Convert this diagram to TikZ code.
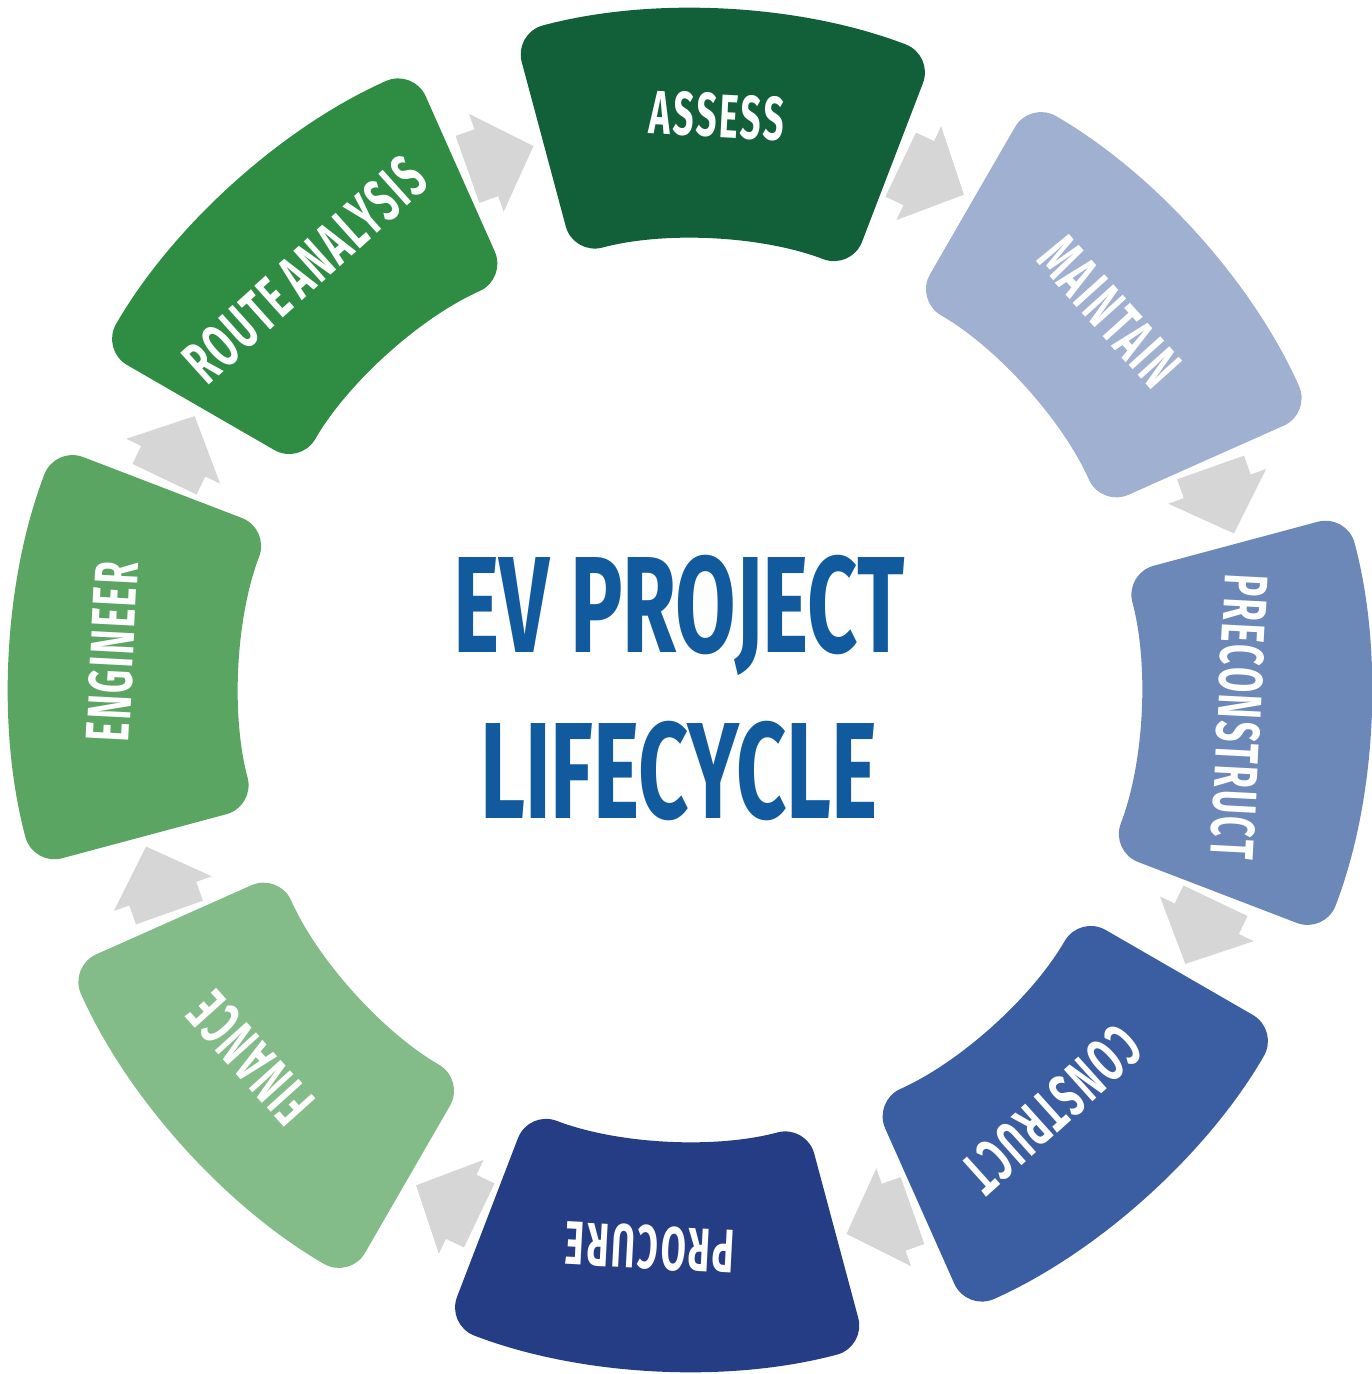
\documentclass[tikz,border=0pt]{standalone}
\usepackage{fontspec}
\newfontfamily\dinfont[FakeStretch=0.64]{Fira Sans}
\newfontfamily\dinlabel[FakeStretch=0.59, LetterSpace=4, WordSpace=0.85]{Fira Sans}
\definecolor{assess}{RGB}{17,96,58}
\definecolor{maintain}{RGB}{159,176,208}
\definecolor{preconstruct}{RGB}{108,136,185}
\definecolor{construct}{RGB}{58,94,161}
\definecolor{procure}{RGB}{37,61,132}
\definecolor{finance}{RGB}{131,187,137}
\definecolor{engineer}{RGB}{91,165,99}
\definecolor{route}{RGB}{46,140,67}
\definecolor{arrowgrey}{RGB}{214,214,214}
\definecolor{titleblue}{RGB}{18,90,158}
\tikzset{
	steplabel/.style={text=white, inner sep=0pt, font=\dinlabel\bfseries\fontsize{17.5}{18}\selectfont},
	title/.style={text=titleblue, inner sep=0pt, font=\dinfont\bfseries\fontsize{39}{40}\selectfont},
	cyclearrow/.style={fill=arrowgrey}
}
\begin{document}
\begin{tikzpicture}
		\useasboundingbox (-6.90,-6.84) rectangle (6.82,6.90);
		\foreach \a/\c/\t/\la/\lr [count=\i] in {87/assess/ASSESS/87.3/5.75, 42/maintain/MAINTAIN/42/5.65, -3/preconstruct/PRECONSTRUCT/-2.8/5.50, -48/construct/CONSTRUCT/-49.2/5.54, -93/procure/PROCURE/-94.1/5.59, -138/finance/FINANCE/-140/5.73, -183/engineer/ENGINEER/176.2/5.79, -228/route/ROUTE ANALYSIS/132.5/5.70}
		{
			\fill[\c, rounded corners=0.3cm] (\a-18:6.8) arc (\a-18:\a+18:6.8) -- (\a+18:4.5) arc (\a+18:\a-18:4.5) -- cycle;
			\node[steplabel, rotate=\a-90] (step\i) at (\la:\lr) {\t};
		}
		\foreach \g in {64.5,19.5,...,-270}
		{
			\fill[cyclearrow, shift={(\g:5.65)}, rotate=\g-90] (-0.36,0.355) -- (-0.16,0.355) -- (-0.16,0.52) -- (0.34,0) -- (-0.16,-0.52) -- (-0.16,-0.355) -- (-0.36,-0.355) -- cycle;
		}
		\node[title, anchor=base] (title1) at (-0.11,0.37) {EV PROJECT};
		\node[title, anchor=base] (title2) at (-0.11,-1.28) {LIFECYCLE};
\end{tikzpicture}
\end{document}
